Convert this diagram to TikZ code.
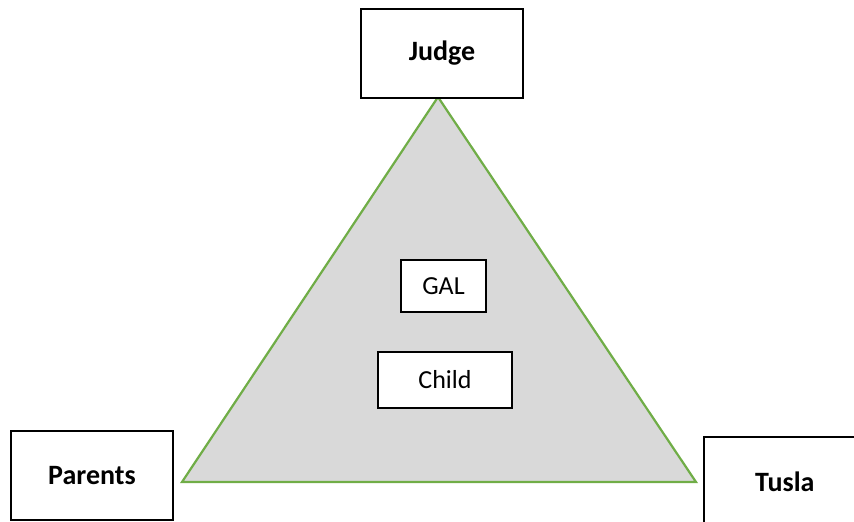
\documentclass[tikz,border=0pt]{standalone}
\usepackage{fontspec}
\setmainfont{Carlito}
\definecolor{tgreen}{RGB}{112,173,71}
\definecolor{tgray}{RGB}{217,217,217}
\begin{document}
\begin{tikzpicture}[x=1pt,y=-1pt,
  rolebox/.style={draw=black,line width=1.6pt,fill=white,minimum width=162pt,minimum height=89pt,inner sep=0pt,font=\fontsize{28}{30}\selectfont\bfseries},
  innerbox/.style={draw=black,line width=1.4pt,fill=white,inner sep=0pt,font=\fontsize{26}{28}\selectfont}]
\useasboundingbox (0,0) rectangle (854,522);
\clip (0,0) rectangle (854,522);
\coordinate (top) at (438,97);
\coordinate (left) at (182,482);
\coordinate (right) at (696,482);
\filldraw[fill=tgray,draw=tgreen,line width=2.2pt,line join=miter] (top) -- (left) -- (right) -- cycle;
\node[rolebox] (judge) at (442,53.5) {Judge};
\node[rolebox] (parents) at (92,475.5) {Parents};
\node[rolebox,anchor=north west] (tusla) at (703,436) {\raisebox{-4pt}{Tusla}};
\node[innerbox,minimum width=85pt,minimum height=52pt] (gal) at (443.5,286) {GAL};
\node[innerbox,minimum width=134pt,minimum height=56pt] (child) at (445,380) {Child};
\end{tikzpicture}
\end{document}
